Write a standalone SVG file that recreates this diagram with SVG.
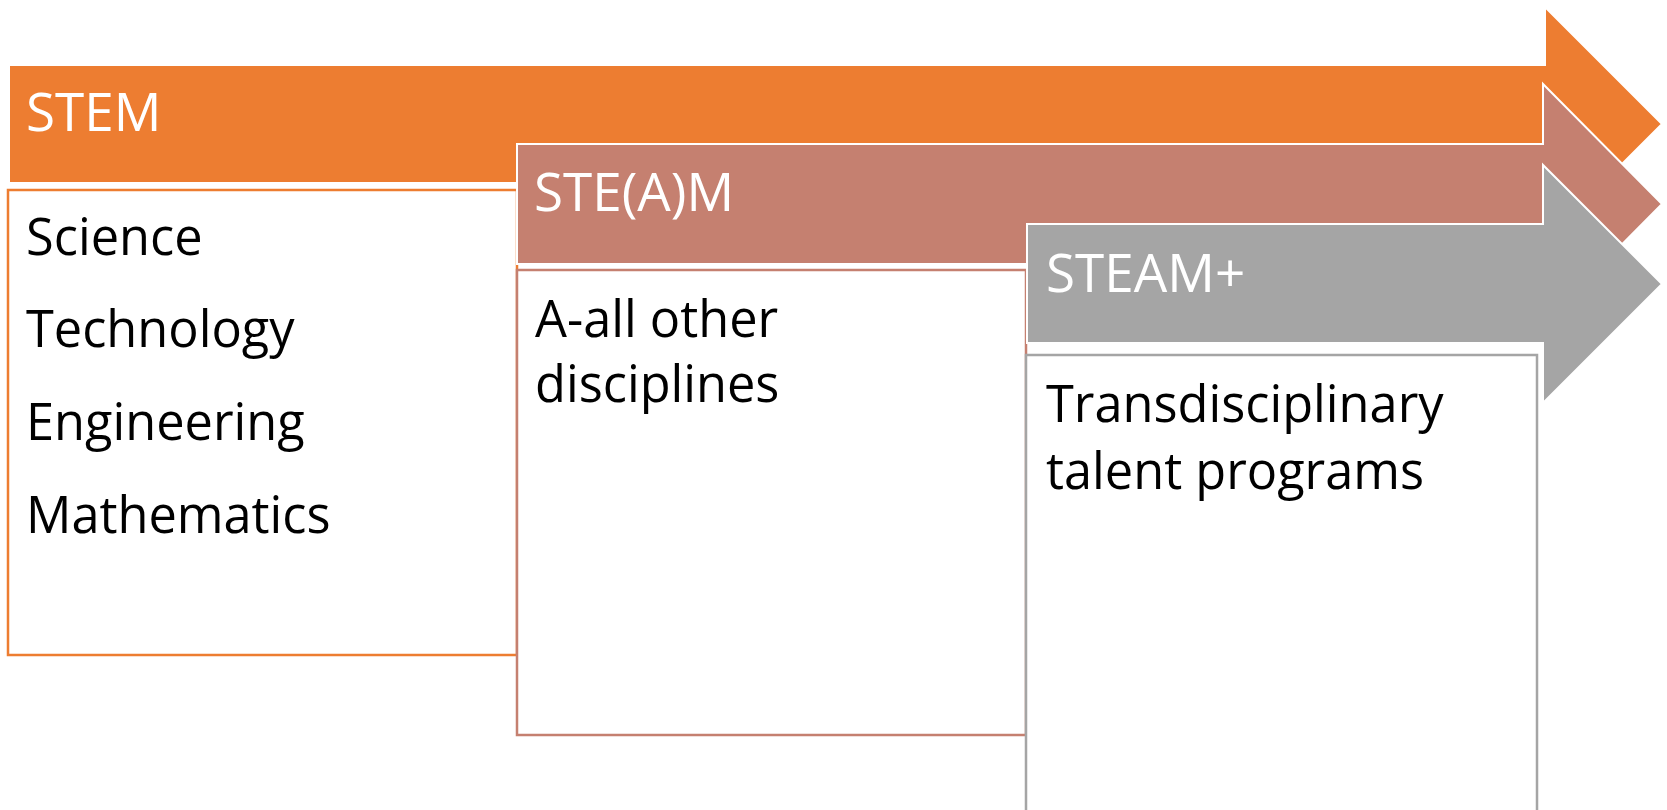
<svg xmlns="http://www.w3.org/2000/svg" width="1667" height="810" viewBox="0 0 1667 810">
<style>
  .arrow { stroke: #ffffff; stroke-width: 2; stroke-linejoin: miter; }
  .box { fill: #ffffff; stroke-width: 2.5; }
  .head { font-family: "Open Sans", "Liberation Sans", sans-serif; font-size: 53px; fill: #ffffff; }
  .body { font-family: "Open Sans", "Liberation Sans", sans-serif; font-size: 50.5px; fill: #000000; }
</style>
<rect x="0" y="0" width="1667" height="810" fill="#ffffff"/>
<g id="stem">
  <polygon class="arrow" fill="#ED7D31" points="9,65 1545,65 1545,7 1662,124 1545,241 1545,183 9,183"/>
  <rect class="box" x="8" y="190" width="509" height="465" stroke="#ED7D31"/>
  <text class="head" x="26" y="131">STEM</text>
  <text class="body" x="26" y="255">Science</text>
  <text class="body" x="26" y="347">Technology</text>
  <text class="body" x="26" y="440">Engineering</text>
  <text class="body" x="26" y="533">Mathematics</text>
</g>
<g id="steam-a">
  <polygon class="arrow" fill="#C58070" points="517,144 1543,144 1543,84 1662,204 1543,324 1543,264 517,264"/>
  <rect class="box" x="517" y="270" width="509" height="465" stroke="#C58070"/>
  <text class="head" x="534" y="211">STE(A)M</text>
  <text class="body" x="535" y="337">A-all other</text>
  <text class="body" x="535" y="402">disciplines</text>
</g>
<g id="steam-plus">
  <polygon class="arrow" fill="#A5A5A5" points="1027,224 1543,224 1543,165 1662,284 1543,403 1543,343 1027,343"/>
  <rect class="box" x="1026" y="355" width="511" height="480" stroke="#A5A5A5"/>
  <text class="head" x="1046" y="292">STEAM+</text>
  <text class="body" x="1046" y="422">Transdisciplinary</text>
  <text class="body" x="1046" y="489">talent programs</text>
</g>
</svg>
